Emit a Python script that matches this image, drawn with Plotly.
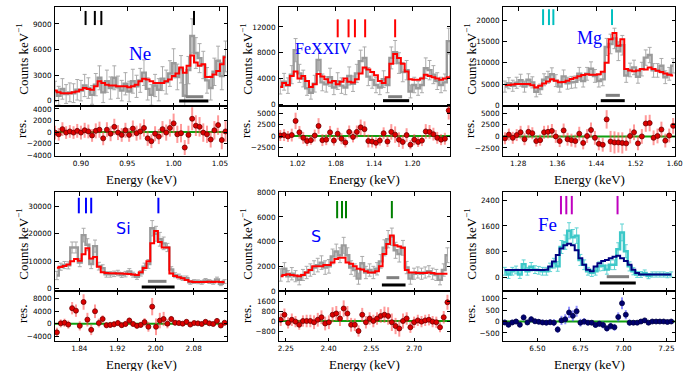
import plotly.graph_objects as go

W, H = 689, 371

# ---------------- Ne ----------------
ne_energy = [0.872, 0.876, 0.880, 0.884, 0.888, 0.892, 0.896, 0.900, 0.904, 0.908, 0.912, 0.916, 0.920, 0.924,
             0.928, 0.932, 0.936, 0.940, 0.944, 0.948, 0.952, 0.956, 0.960, 0.964, 0.968, 0.972, 0.976, 0.980,
             0.984, 0.988, 0.992, 0.996, 1.000, 1.004, 1.008, 1.012, 1.016, 1.020, 1.024, 1.028, 1.032, 1.036,
             1.040, 1.044, 1.048, 1.052, 1.056]
ne_counts = [1100, 600, 1400, 800, 1000, 900, 1300, 1200, 1800, 1500, 700, 1900, 2700, 1000, 2300, 1500, 2700,
             1600, 1200, 2000, 1100, 2300, 1700, 2400, 3300, 1400, 700, 1800, 1300, 2600, 2200, 3200, 4400, 2800,
             3700, 600, 3600, 7600, 5600, 5000, 4200, 2400, 1500, 3400, 4700, 2900, 5200]
ne_err = [1200, 1100, 1200, 1100, 1100, 1100, 1200, 1200, 1300, 1200, 1100, 1300, 1400, 1200, 1300, 1300, 1400,
          1300, 1200, 1300, 1200, 1400, 1300, 1400, 1500, 1300, 1200, 1300, 1300, 1400, 1400, 1500, 1700, 1500,
          1600, 1300, 1600, 2000, 1800, 1700, 1600, 1500, 1400, 1600, 1700, 1600, 1800]
ne_model = [1200, 1000, 900, 900, 900, 1000, 1100, 1300, 1500, 1400, 1300, 1700, 2300, 2100, 1900, 1800, 1800,
            1700, 1700, 1700, 1600, 1700, 1900, 2300, 2600, 2500, 2300, 2100, 2100, 2100, 2300, 2500, 2900, 3200,
            3900, 3300, 4100, 5300, 4500, 4100, 4300, 2800, 2800, 3100, 3500, 4300, 5100]
ne_resid = [-100, -400, 500, -100, 100, -100, 200, -100, 300, 100, -600, 200, 400, -1100, 400, -300, 900, -100,
            -500, 300, -500, 600, -200, 100, 700, -1100, -1600, -300, -800, 500, -100, 700, 1500, -400, -200,
            -2700, -500, 2300, 1100, 900, -100, -400, -1300, 300, 1200, -1400, 100]
ne_lines = [0.905, 0.915, 0.922, 1.022]
ne_band_grey = [1.013, 1.032]
ne_band_black = [1.006, 1.0375]

# ---------------- Fe XXIV ----------------
fx_energy = [0.993, 0.999, 1.005, 1.011, 1.017, 1.023, 1.029, 1.035, 1.041, 1.047, 1.053, 1.059, 1.065, 1.071,
             1.077, 1.083, 1.089, 1.095, 1.101, 1.107, 1.113, 1.119, 1.125, 1.131, 1.137, 1.143, 1.149, 1.155,
             1.161, 1.167, 1.173, 1.179, 1.185, 1.191, 1.197, 1.203, 1.209, 1.215, 1.221, 1.227, 1.233, 1.239,
             1.245, 1.251, 1.257, 1.263]
fx_counts = [2800, 3500, 2900, 4600, 8400, 4800, 4000, 2500, 1800, 3200, 6900, 3400, 3100, 4200, 2600, 3600, 2900,
             2600, 4400, 3200, 4800, 6700, 7200, 4300, 3800, 3000, 2600, 3900, 3000, 7200, 8100, 6400, 5000, 5300,
             2000, 3000, 2500, 3000, 5600, 5300, 4600, 3600, 3000, 3400, 9800, 4200]
fx_err = [1200, 1300, 1200, 1400, 1800, 1400, 1300, 1100, 1000, 1300, 1700, 1300, 1200, 1400, 1100, 1300, 1200,
          1100, 1400, 1200, 1400, 1700, 1700, 1400, 1300, 1200, 1100, 1300, 1200, 1700, 1800, 1600, 1500, 1500,
          1000, 1200, 1100, 1200, 1600, 1500, 1400, 1300, 1200, 1300, 2000, 1400]
fx_model = [2700, 3300, 3000, 4400, 5100, 4000, 4400, 3600, 2700, 3100, 4700, 4300, 3900, 3400, 3600, 3100, 3500,
            4000, 3500, 3400, 3900, 4800, 5700, 5400, 5000, 4500, 3600, 3300, 4200, 6300, 7800, 7200, 6300, 5100,
            3900, 3800, 3800, 4000, 4600, 4400, 4200, 4000, 3800, 4000, 4200, 4400]
fx_resid = [100, 200, -100, 200, 3300, 800, -400, -1100, -900, 100, 2200, -900, -800, 800, -1000, 500, -600,
            -1400, 900, -200, 900, 1900, 1500, -1100, -1200, -1500, -1000, 600, -1200, 900, 300, -800, -1300, 200,
            -1900, -800, -1300, -1000, 1000, 900, 400, -400, -800, -600, 5600, -200]
fx_lines = [1.083, 1.100, 1.110, 1.126, 1.173]
fx_band_grey = [1.162, 1.184]
fx_band_black = [1.154, 1.195]

# ---------------- Mg ----------------
mg_energy = [1.253, 1.261, 1.269, 1.277, 1.285, 1.293, 1.301, 1.309, 1.317, 1.325, 1.333, 1.341, 1.349, 1.357,
             1.365, 1.373, 1.381, 1.389, 1.397, 1.405, 1.413, 1.421, 1.429, 1.437, 1.445, 1.453, 1.461, 1.469,
             1.477, 1.485, 1.493, 1.501, 1.509, 1.517, 1.525, 1.533, 1.541, 1.549, 1.557, 1.565, 1.573, 1.581,
             1.589, 1.597]
mg_counts = [4400, 5200, 4600, 5300, 5900, 4400, 6000, 5400, 3200, 3800, 6000, 6600, 7300, 5800, 4400, 6800, 5200,
             5400, 5500, 7400, 5700, 7400, 8600, 6900, 5700, 6100, 13700, 14400, 15700, 12700, 14100, 7000, 8300,
             8900, 6700, 8500, 11200, 11800, 8200, 8200, 9300, 6600, 7400, 9300]
mg_err = [1300, 1300, 1300, 1300, 1400, 1300, 1400, 1300, 1200, 1200, 1400, 1400, 1500, 1400, 1300, 1500, 1400,
          1400, 1400, 1500, 1400, 1500, 1600, 1500, 1400, 1500, 2000, 2300, 2400, 2200, 2300, 1600, 1600, 1700,
          1500, 1600, 1800, 1800, 1600, 1600, 1700, 1500, 1500, 1700]
mg_model = [4800, 4800, 4900, 5000, 5000, 5000, 5000, 4700, 4200, 4600, 5100, 5600, 6100, 5800, 5400, 5500, 5800,
            6200, 6500, 6800, 7100, 7300, 7200, 7200, 7300, 7900, 10000, 15500, 17000, 14000, 15500, 8500, 8200,
            8000, 8200, 8500, 8400, 8900, 8500, 8100, 7800, 7500, 7200, 7000]
mg_resid = [-400, 400, -300, 300, 900, -600, 1000, 700, -1000, -800, 900, 1000, 1200, 0, -1000, 1300, -600, -800,
            -1000, 600, -1400, 100, 1400, -300, -1600, -1800, 3700, -1100, -1300, -1300, -1400, -1500, 100, 900,
            -1500, 0, 2800, 2900, -300, 100, 1500, -900, 200, 2300]
mg_lines = [1.331, 1.343, 1.352, 1.472]
mg_band_grey = [1.459, 1.488]
mg_band_black = [1.449, 1.498]

# ---------------- Si ----------------
si_energy = [1.793, 1.801, 1.809, 1.817, 1.825, 1.833, 1.841, 1.849, 1.857, 1.865, 1.873, 1.881, 1.889, 1.897,
             1.905, 1.913, 1.921, 1.929, 1.937, 1.945, 1.953, 1.961, 1.969, 1.977, 1.985, 1.993, 2.001, 2.009,
             2.017, 2.025, 2.033, 2.041, 2.049, 2.057, 2.065, 2.073, 2.081, 2.089, 2.097, 2.105, 2.113, 2.121,
             2.129, 2.137, 2.145]
si_counts = [4800, 8000, 8600, 8500, 15000, 15000, 9500, 19500, 16000, 9000, 15500, 8200, 7500, 5200, 5200, 5400,
             5700, 5000, 5300, 6300, 5100, 4300, 5600, 8000, 9000, 22000, 20000, 18000, 16500, 15000, 7000, 4900,
             4400, 3800, 3800, 2300, 2600, 2500, 2300, 3000, 2600, 2300, 3400, 1800, 2600]
si_err = [1500, 1300, 1300, 1300, 2000, 2000, 1500, 2500, 2200, 1700, 2200, 1400, 1200, 1000, 1000, 1000, 1000,
          900, 1000, 1000, 900, 900, 1000, 1300, 1600, 2800, 2700, 2500, 2300, 1500, 1000, 900, 900, 800, 800,
          700, 700, 700, 700, 700, 700, 700, 800, 700, 700]
si_model = [7600, 7900, 8300, 8800, 10000, 10800, 10200, 12500, 14700, 11000, 11500, 8000, 6000, 5700, 5600, 5600,
            5500, 5500, 5400, 5300, 5200, 5000, 6000, 7500, 10000, 16500, 21000, 17000, 15000, 15000, 5500, 4600,
            4200, 3800, 3200, 2600, 2400, 2400, 2400, 2400, 2500, 2400, 2500, 2400, 2300]
si_resid = [-2800, 100, 300, -300, 5000, 4200, -700, 7000, 1300, -2000, 4000, 200, 1500, -500, -400, -200, 200,
            -500, -100, 1000, -100, -700, -400, 500, -1000, 5500, -1000, 1000, 1500, 0, 1500, 300, 200, 0, 600,
            -300, 200, 100, -100, 600, 100, -100, 900, -600, 300]
si_lines = [1.839, 1.854, 1.865, 2.006]
si_band_grey = [1.984, 2.023]
si_band_black = [1.971, 2.040]

# ---------------- S ----------------
s_energy = [2.232, 2.245, 2.258, 2.271, 2.284, 2.297, 2.310, 2.323, 2.336, 2.349, 2.362, 2.375, 2.388, 2.401,
            2.414, 2.427, 2.440, 2.453, 2.466, 2.479, 2.492, 2.505, 2.518, 2.531, 2.544, 2.557, 2.570, 2.583,
            2.596, 2.609, 2.622, 2.635, 2.648, 2.661, 2.674, 2.687, 2.700, 2.713, 2.726, 2.739, 2.752, 2.765,
            2.778, 2.791, 2.804, 2.817]
s_counts = [1300, 1800, 1200, 1400, 1200, 900, 1300, 1500, 1700, 1900, 2100, 2300, 1900, 2000, 2800, 3200, 2900,
            3700, 2900, 1900, 1700, 1000, 2250, 1500, 1700, 1500, 1800, 2400, 3500, 4200, 4400, 3300, 3000, 3500,
            1900, 1000, 1400, 1500, 1400, 1500, 1600, 1400, 1300, 900, 1700, 2900]
s_err = [500, 500, 450, 500, 450, 400, 450, 500, 500, 550, 550, 550, 550, 550, 600, 600, 600, 650, 600, 550, 500,
         450, 550, 500, 500, 500, 500, 550, 650, 700, 700, 650, 650, 600, 500, 450, 450, 450, 450, 450, 450, 450,
         450, 400, 500, 600]
s_model = [1200, 1300, 1350, 1300, 1250, 1200, 1300, 1500, 1700, 2000, 2000, 2000, 2100, 2100, 2300, 2600, 2700,
           2700, 2300, 2200, 2000, 1800, 1750, 1600, 1500, 1500, 1600, 2000, 3000, 3800, 4500, 3700, 3600, 3500,
           1700, 1500, 1500, 1450, 1450, 1450, 1500, 1450, 1400, 1400, 1400, 1400]
s_resid = [100, 500, -150, 100, -50, -300, 0, 0, 0, -100, 100, 300, -200, -100, 500, 600, 200, 1000, 600, -300,
           -300, -800, 500, -100, 200, 0, 200, 400, 500, 400, -100, -400, -600, 0, 200, -500, -100, 50, -50, 50,
           100, -50, -100, -500, 300, 1500]
s_lines = [2.430, 2.447, 2.461, 2.622]
s_band_grey = [2.603, 2.648]
s_band_black = [2.587, 2.670]

# ---------------- Fe ----------------
fe_energy = [6.310, 6.332, 6.354, 6.376, 6.398, 6.420, 6.442, 6.464, 6.486, 6.508, 6.530, 6.552, 6.574, 6.596,
             6.618, 6.640, 6.662, 6.684, 6.706, 6.728, 6.750, 6.772, 6.794, 6.816, 6.838, 6.860, 6.882, 6.904,
             6.926, 6.948, 6.970, 6.992, 7.014, 7.036, 7.058, 7.080, 7.102, 7.124, 7.146, 7.168, 7.190, 7.212,
             7.234, 7.256, 7.278]
fe_counts = [200, 100, 200, 240, 100, 420, 200, 340, 250, 230, 200, 200, 320, 450, 350, 950, 1100, 1450, 1250,
             1300, 550, 400, 200, 150, 200, 350, 370, 250, 400, 400, 880, 1400, 820, 350, 200, 100, 100, 150, 50,
             100, 100, 100, 100, 80, 100]
fe_err = [120, 120, 120, 120, 120, 130, 120, 130, 120, 120, 120, 120, 130, 150, 150, 200, 220, 250, 240, 240, 170,
          150, 120, 110, 120, 140, 150, 140, 150, 150, 200, 260, 200, 140, 110, 90, 90, 90, 80, 80, 80, 80, 80,
          80, 80]
fe_model = [240, 240, 240, 240, 240, 240, 240, 240, 240, 240, 240, 250, 350, 500, 700, 900, 1000, 1050, 1000, 850,
            600, 400, 250, 200, 350, 450, 520, 550, 600, 650, 680, 600, 520, 400, 250, 150, 100, 100, 100, 100,
            100, 100, 100, 100, 100]
fe_resid = [-40, -140, -40, 0, -140, 180, -40, 100, 10, -10, -40, -50, -30, -50, -350, 50, 100, 400, 250, 450,
            -50, 0, -50, -50, -150, -100, -150, -300, -200, -250, 200, 800, 300, -50, -50, -50, 0, 50, -50, 0, 0,
            0, 0, -20, 0]
fe_lines = [6.637, 6.668, 6.700, 6.966]
fe_band_grey = [6.903, 7.033]
fe_band_black = [6.863, 7.072]

# ---------------- panel layout / styles ----------------
GREY_STYLE = dict(data="#9a9a9a", err="#ababab", model="#ff0000", mk="#dd0000", mkedge="#700000",
                  rerr="rgba(255,70,70,0.55)")
FE_STYLE = dict(data="#3cc8c8", err="#5fd3d3", model="#000080", mk="#000070", mkedge="#000040",
                rerr="rgba(70,70,255,0.6)")

panels = [
    dict(E=ne_energy, C=ne_counts, err=ne_err, M=ne_model, R=ne_resid, lines=ne_lines, bg=ne_band_grey,
         bb=ne_band_black, xr=[0.872, 1.0576], xt=[0.90, 0.95, 1.00, 1.05], xfmt=".2f",
         yr=[-600, 10950], yt=[0, 3000, 6000, 9000], rr=[-4170, 4520], rt=[-4000, -2000, 0, 2000, 4000],
         col=0, row=0, lc="#000000", lspan=[0.82, 0.963], byg=0.094, byb=0.051,
         label="Ne", lfont="Liberation Serif", lsize=19, lpos=[0.492, 0.534], st=GREY_STYLE),
    dict(E=fx_energy, C=fx_counts, err=fx_err, M=fx_model, R=fx_resid, lines=fx_lines, bg=fx_band_grey,
         bb=fx_band_black, xr=[0.991, 1.259], xt=[1.02, 1.08, 1.14, 1.20], xfmt=".2f",
         yr=[-260, 15050], yt=[0, 4000, 8000, 12000], rr=[-4370, 6560], rt=[-2500, 0, 2500, 5000],
         col=1, row=0, lc="#ff0000", lspan=[0.696, 0.878], byg=0.094, byb=0.054,
         label="FeXXIV", lfont="Liberation Serif", lsize=16, lpos=[0.26, 0.585], st=GREY_STYLE),
    dict(E=mg_energy, C=mg_counts, err=mg_err, M=mg_model, R=mg_resid, lines=mg_lines, bg=mg_band_grey,
         bb=mg_band_black, xr=[1.249, 1.6008], xt=[1.28, 1.36, 1.44, 1.52, 1.60], xfmt=".2f",
         yr=[-150, 23000], yt=[0, 5000, 10000, 15000, 20000], rr=[-4240, 6600], rt=[-2500, 0, 2500, 5000],
         col=2, row=0, lc="#00bfbf", lspan=[0.82, 0.98], byg=0.108, byb=0.054,
         label="Mg", lfont="Liberation Serif", lsize=18, lpos=[0.503, 0.686], st=GREY_STYLE),
    dict(E=si_energy, C=si_counts, err=si_err, M=si_model, R=si_resid, lines=si_lines, bg=si_band_grey,
         bb=si_band_black, xr=[1.789, 2.150], xt=[1.84, 1.92, 2.00, 2.08], xfmt=".2f",
         yr=[-850, 35100], yt=[0, 10000, 20000, 30000], rr=[-5600, 10550], rt=[-4000, 0, 4000, 8000],
         col=0, row=1, lc="#0000ff", lspan=[0.787, 0.945], byg=0.098, byb=0.041,
         label="Si", lfont="DejaVu Sans", lsize=16, lpos=[0.396, 0.635], st=GREY_STYLE),
    dict(E=s_energy, C=s_counts, err=s_err, M=s_model, R=s_resid, lines=s_lines, bg=s_band_grey,
         bb=s_band_black, xr=[2.226, 2.826], xt=[2.25, 2.40, 2.55, 2.70], xfmt=".2f",
         yr=[0, 8000], yt=[0, 2000, 4000, 6000, 8000], rr=[-1600, 2400], rt=[-800, 0, 800, 1600],
         col=1, row=1, lc="#008000", lspan=[0.737, 0.912], byg=0.135, byb=0.061,
         label="S", lfont="DejaVu Sans", lsize=16, lpos=[0.215, 0.55], st=GREY_STYLE),
    dict(E=fe_energy, C=fe_counts, err=fe_err, M=fe_model, R=fe_resid, lines=fe_lines, bg=fe_band_grey,
         bb=fe_band_black, xr=[6.3, 7.3], xt=[6.50, 6.75, 7.00, 7.25], xfmt=".2f",
         yr=[-410, 2640], yt=[0, 800, 1600, 2400], rr=[-853, 1338], rt=[-500, 0, 500, 1000],
         col=2, row=1, lc="#bf00bf", lspan=[0.777, 0.963], byg=0.145, byb=0.081,
         label="Fe", lfont="Liberation Serif", lsize=19, lpos=[0.261, 0.676], st=FE_STYLE),
]

COLS = [(55, 227), (279, 450), (503, 675)]
ROWS = [(7.3, 106, 156), (192.3, 291, 341)]
TICKFONT = dict(family="DejaVu Sans", size=7.3, color="#000000")
SERIF = "Liberation Serif, Times New Roman, serif"

fig = go.Figure()
layout = dict(width=W, height=H, margin=dict(l=0, r=0, t=0, b=0), paper_bgcolor="white",
              plot_bgcolor="white", showlegend=False)
shapes = []
annotations = []


def px(x):
    return x / W


def py(y):
    return 1 - y / H


def sfx(n):
    return "" if n == 1 else str(n)


for i, p in enumerate(panels):
    m, r = 2 * i + 1, 2 * i + 2
    xm, xr_ = "x" + sfx(m), "x" + sfx(r)
    ym, yr_ = "y" + sfx(m), "y" + sfx(r)
    c0, c1 = COLS[p["col"]]
    top, mid, bot = ROWS[p["row"]]
    st = p["st"]
    common_ax = dict(showline=True, linecolor="#000000", linewidth=1, mirror="ticks", ticks="inside",
                     ticklen=3.5, tickwidth=0.8, tickcolor="#000000", showgrid=False, zeroline=False,
                     tickfont=TICKFONT, automargin=False)
    layout["xaxis" + sfx(m)] = dict(domain=[px(c0), px(c1)], anchor=ym, matches=xr_, range=p["xr"],
                                    tickvals=p["xt"], showticklabels=False, **common_ax)
    layout["xaxis" + sfx(r)] = dict(domain=[px(c0), px(c1)], anchor=yr_, range=p["xr"], tickvals=p["xt"],
                                    tickformat=p["xfmt"], ticklabelstandoff=0, **common_ax)
    layout["yaxis" + sfx(m)] = dict(domain=[py(mid), py(top)], anchor=xm, range=p["yr"], tickvals=p["yt"],
                                    tickformat="d", ticklabelstandoff=1, **common_ax)
    layout["yaxis" + sfx(r)] = dict(domain=[py(bot), py(mid)], anchor=xr_, range=p["rr"], tickvals=p["rt"],
                                    tickformat="d", ticklabelstandoff=1, **common_ax)

    # data (step + error bars)
    fig.add_trace(go.Scatter(x=p["E"], y=p["C"], mode="lines", line=dict(color=st["data"], width=2.4, shape="hvh"),
                             error_y=dict(type="data", array=p["err"], color=st["err"], thickness=1, width=2),
                             xaxis=xm, yaxis=ym, hoverinfo="skip"))
    # model
    fig.add_trace(go.Scatter(x=p["E"], y=p["M"], mode="lines", line=dict(color=st["model"], width=2, shape="hvh"),
                             xaxis=xm, yaxis=ym, hoverinfo="skip"))
    # residuals
    fig.add_trace(go.Scatter(x=p["E"], y=p["R"], mode="markers",
                             marker=dict(color=st["mk"], size=5, line=dict(color=st["mkedge"], width=0.8)),
                             error_y=dict(type="data", array=p["err"], color=st["rerr"], thickness=2, width=0),
                             xaxis=xr_, yaxis=yr_, hoverinfo="skip"))
    # zero line
    shapes.append(dict(type="line", xref=xr_ + " domain", yref=yr_, x0=0, x1=1, y0=0, y1=0,
                       line=dict(color="#10a010", width=2), layer="below"))
    # line markers
    for e in p["lines"]:
        shapes.append(dict(type="line", xref=xm, yref=ym + " domain", x0=e, x1=e, y0=p["lspan"][0],
                           y1=p["lspan"][1], line=dict(color=p["lc"], width=2)))
    # bands
    shapes.append(dict(type="line", xref=xm, yref=ym + " domain", x0=p["bg"][0], x1=p["bg"][1],
                       y0=p["byg"], y1=p["byg"], line=dict(color="#808080", width=3)))
    shapes.append(dict(type="line", xref=xm, yref=ym + " domain", x0=p["bb"][0], x1=p["bb"][1],
                       y0=p["byb"], y1=p["byb"], line=dict(color="#000000", width=3)))
    # element label
    annotations.append(dict(text=p["label"], xref=xm + " domain", yref=ym + " domain", x=p["lpos"][0],
                            y=p["lpos"][1], showarrow=False, xanchor="center", yanchor="middle",
                            font=dict(family=p["lfont"], size=p["lsize"], color="#0000ff")))
    # axis titles
    tx = c0 - 33
    annotations.append(dict(text="Counts keV<sup>\u22121</sup>", xref="paper", yref="paper", x=px(tx),
                            y=py((top + mid) / 2 + 3), showarrow=False, textangle=-90, xanchor="center",
                            yanchor="middle", font=dict(family=SERIF, size=13, color="#000000")))
    annotations.append(dict(text="res.", xref="paper", yref="paper", x=px(tx), y=py((mid + bot) / 2 - 2),
                            showarrow=False, textangle=-90, xanchor="center", yanchor="middle",
                            font=dict(family=SERIF, size=13, color="#000000")))
    annotations.append(dict(text="Energy (keV)", xref="paper", yref="paper", x=px((c0 + c1) / 2),
                            y=py(bot + 23), showarrow=False, xanchor="center", yanchor="middle",
                            font=dict(family=SERIF, size=13, color="#000000")))

layout["shapes"] = shapes
layout["annotations"] = annotations
fig.update_layout(**layout)
fig.write_html("out.html", config={"displayModeBar": False},
               post_script="document.body.style.margin='0px';document.body.style.overflow='hidden';")
